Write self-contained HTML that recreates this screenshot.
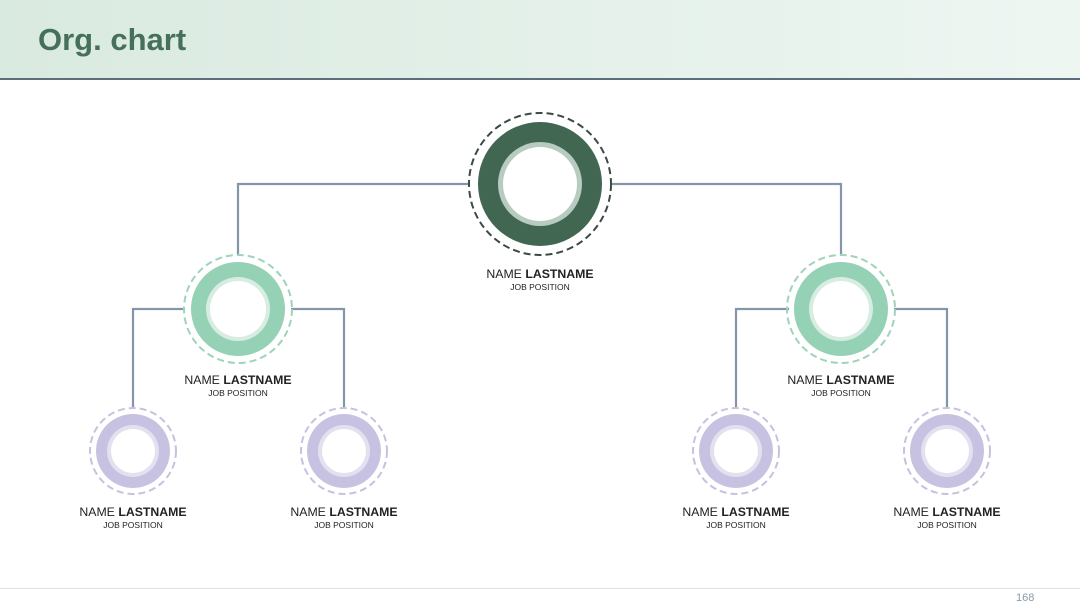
<!DOCTYPE html>
<html><head><meta charset="utf-8"><style>
body{margin:0;width:1080px;height:608px;overflow:hidden;background:#fff;font-family:"Liberation Sans",Arial,sans-serif;position:relative}
.hdr{position:absolute;left:0;top:0;width:1080px;height:78px;background:linear-gradient(90deg,#d9eae0,#eef6f2);border-bottom:2px solid #5c6e7c}
.hdr h1{margin:0;position:absolute;left:38px;top:22px;font-size:31px;color:#46705a;font-weight:bold}
.foot{position:absolute;left:0;top:588px;width:1080px;height:1px;background:#d6e4dd}
.pg{position:absolute;left:1016px;top:592px;font-size:11px;color:#8a9aa8}
</style></head><body>
<div class="hdr"><h1>Org. chart</h1></div>
<svg width="1080" height="608" style="position:absolute;left:0;top:0" font-family="Liberation Sans, Arial, sans-serif">
<g stroke="#8596ab" stroke-width="2.2" fill="none">
<path d="M470 184H238V254M612 184H841V254"/>
<path d="M185 309H133V408M291 309H344V408"/>
<path d="M789 309H736V408M894 309H947V408"/>
</g>
<circle cx="540" cy="184" r="71" fill="none" stroke="#3a4a44" stroke-width="2" stroke-dasharray="7 4"/>
<circle cx="540" cy="184" r="62" fill="#416752"/>
<circle cx="540" cy="184" r="42" fill="#b7cbc0"/>
<circle cx="540" cy="184" r="37" fill="#fff"/>
<g>
<circle cx="238" cy="309" r="54" fill="none" stroke="#9fd3ba" stroke-width="2" stroke-dasharray="7 4"/>
<circle cx="238" cy="309" r="47" fill="#94d1b5"/>
<circle cx="238" cy="309" r="32" fill="#d7ece2"/>
<circle cx="238" cy="309" r="28" fill="#fff"/>
<circle cx="841" cy="309" r="54" fill="none" stroke="#9fd3ba" stroke-width="2" stroke-dasharray="7 4"/>
<circle cx="841" cy="309" r="47" fill="#94d1b5"/>
<circle cx="841" cy="309" r="32" fill="#d7ece2"/>
<circle cx="841" cy="309" r="28" fill="#fff"/>
</g>
<g id="b">
<circle cx="133" cy="451" r="43" fill="none" stroke="#c7c0e0" stroke-width="2" stroke-dasharray="7 4"/>
<circle cx="133" cy="451" r="37" fill="#c8c2e2"/>
<circle cx="133" cy="451" r="26" fill="#e4e0f0"/>
<circle cx="133" cy="451" r="22" fill="#fff"/>
</g>
<use href="#b" x="211"/><use href="#b" x="603"/><use href="#b" x="814"/>
<g text-anchor="middle" fill="#222">
<text x="540" y="278" font-size="12.3">NAME <tspan font-weight="bold">LASTNAME</tspan></text>
<text x="540" y="290" font-size="8.5">JOB POSITION</text>
<text x="238" y="384" font-size="12.3">NAME <tspan font-weight="bold">LASTNAME</tspan></text>
<text x="238" y="396" font-size="8.5">JOB POSITION</text>
<text x="841" y="384" font-size="12.3">NAME <tspan font-weight="bold">LASTNAME</tspan></text>
<text x="841" y="396" font-size="8.5">JOB POSITION</text>
<text x="133" y="516" font-size="12.3">NAME <tspan font-weight="bold">LASTNAME</tspan></text>
<text x="133" y="528" font-size="8.5">JOB POSITION</text>
<text x="344" y="516" font-size="12.3">NAME <tspan font-weight="bold">LASTNAME</tspan></text>
<text x="344" y="528" font-size="8.5">JOB POSITION</text>
<text x="736" y="516" font-size="12.3">NAME <tspan font-weight="bold">LASTNAME</tspan></text>
<text x="736" y="528" font-size="8.5">JOB POSITION</text>
<text x="947" y="516" font-size="12.3">NAME <tspan font-weight="bold">LASTNAME</tspan></text>
<text x="947" y="528" font-size="8.5">JOB POSITION</text>
</g>
</svg>
<div class="foot"></div>
<div class="pg">168</div>
</body></html>
